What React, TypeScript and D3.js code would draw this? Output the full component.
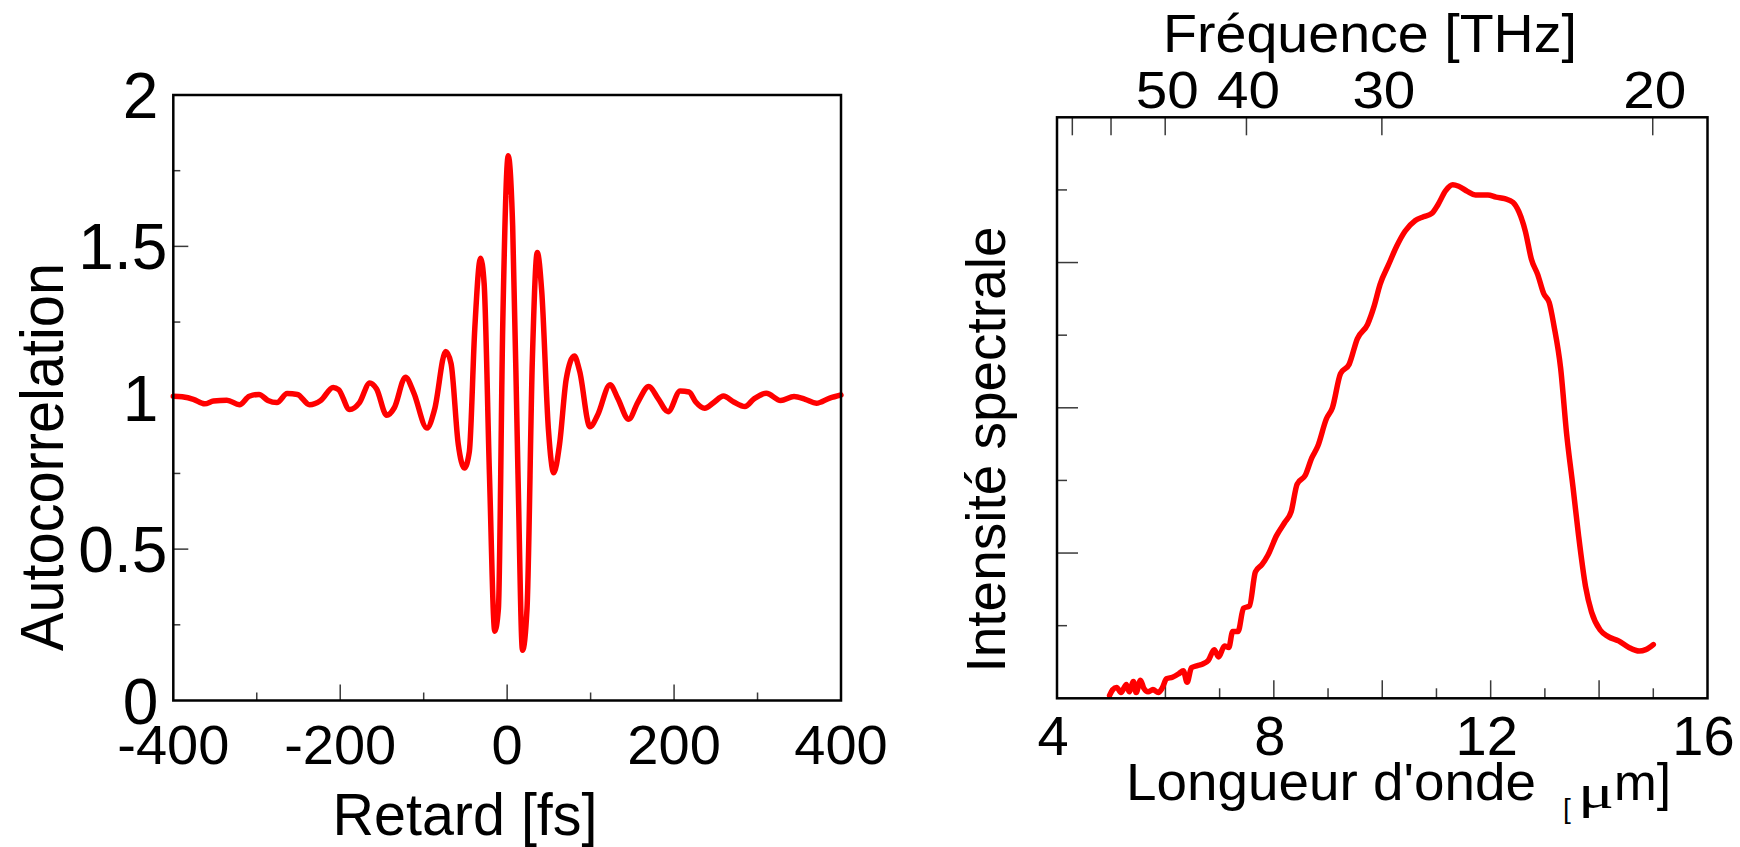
import React from 'react';
import * as d3 from 'd3';

// ---------- Data ----------
// Left panel: interferometric autocorrelation vs delay
const delayFs = [
  -400, -389.3, -375.9, -362.5, -351.8, -335.8, -320.8, -309, -297.3, -286.6,
  -275.9, -263.6, -251.3, -236.8, -223.4, -208.5, -202, -188.7, -176.9, -164.6,
  -156.6, -144.2, -135.2, -121.8, -112.1, -96.1, -87, -73.6, -67.2, -58.6,
  -51.2, -45.3, -38.8, -31.9, -27.6, -21.2, -14.8, -10.5, -5.2, 1.3,
  6.6, 13, 18.4, 23.8, 30.2, 36.1, 41.4, 49.4, 55.8, 62.8,
  70.8, 80.5, 86.9, 99.2, 108.3, 123.3, 132.4, 145.7, 156.4, 169.8,
  180.5, 192.8, 207.3, 217.9, 226, 236.7, 247.4, 259.2, 271.5, 284.9,
  295.6, 310.5, 327.7, 343.7, 357.1, 370.5, 386.5, 400,
];
const autocorrelation = [
  1.005, 1.003, 0.995, 0.98, 0.989, 0.992, 0.977, 1.005, 1.011, 0.991,
  0.984, 1.014, 1.011, 0.977, 0.991, 1.034, 1.027, 0.961, 0.984, 1.049,
  1.03, 0.942, 0.967, 1.068, 1.018, 0.9, 0.961, 1.153, 1.113, 0.847,
  0.768, 0.822, 1.227, 1.461, 1.378, 0.746, 0.229, 0.302, 1.252, 1.799,
  1.568, 0.746, 0.166, 0.303, 1.125, 1.48, 1.353, 0.897, 0.752, 0.847,
  1.062, 1.138, 1.087, 0.904, 0.942, 1.043, 0.999, 0.929, 0.984, 1.037,
  0.999, 0.954, 1.022, 1.019, 0.986, 0.965, 0.984, 1.006, 0.986, 0.971,
  0.996, 1.015, 0.991, 1.004, 0.995, 0.982, 0.999, 1.009,
];

// Right panel: spectral intensity vs wavelength
const wavelengthUm = [
  4.97, 5.03, 5.1, 5.18, 5.28, 5.33, 5.41, 5.46, 5.54, 5.6,
  5.68, 5.77, 5.87, 5.94, 6.02, 6.13, 6.25, 6.33, 6.4, 6.48,
  6.59, 6.68, 6.79, 6.9, 6.98, 7.09, 7.17, 7.24, 7.34, 7.44,
  7.55, 7.66, 7.78, 7.89, 8.05, 8.2, 8.32, 8.43, 8.58, 8.7,
  8.81, 8.97, 9.08, 9.23, 9.39, 9.54, 9.73, 9.85, 9.96, 10.11,
  10.27, 10.42, 10.61, 10.76, 10.92, 11.03, 11.17, 11.3, 11.41, 11.57,
  11.72, 11.95, 12.1, 12.26, 12.41, 12.52, 12.64, 12.75, 12.87, 12.98,
  13.08, 13.17, 13.29, 13.4, 13.52, 13.62, 13.75, 13.86, 14.02, 14.17,
  14.36, 14.55, 14.74, 14.86, 15.0,
];
const spectralIntensity = [
  0.04, 0.12, 0.15, 0.08, 0.19, 0.09, 0.23, 0.08, 0.25, 0.14,
  0.09, 0.12, 0.08, 0.14, 0.27, 0.29, 0.34, 0.38, 0.22, 0.42,
  0.45, 0.47, 0.52, 0.67, 0.57, 0.72, 0.7, 0.92, 0.92, 1.24,
  1.27, 1.74, 1.84, 1.97, 2.24, 2.42, 2.57, 2.95, 3.07, 3.31,
  3.47, 3.85, 4.0, 4.47, 4.6, 4.95, 5.15, 5.4, 5.7, 5.96,
  6.23, 6.43, 6.58, 6.63, 6.68, 6.8, 6.99, 7.07, 7.05, 6.98,
  6.93, 6.93, 6.9, 6.88, 6.83, 6.7, 6.43, 6.05, 5.83, 5.57,
  5.45, 5.12, 4.55, 3.65, 2.9, 2.25, 1.54, 1.19, 0.94, 0.85,
  0.79, 0.7, 0.65, 0.67, 0.74,
];

// Ticks and labels
const delayMinorTicks = [-300, -100, 100, 300];
const delayMajorTicks = [-200, 0, 200];
const delayLabels = [-400, -200, 0, 200, 400];
const autoMinorTicks = [0.25, 0.75, 1.25, 1.75];
const autoMajorTicks = [0.5, 1, 1.5];
const autoLabels = ['0', '0.5', '1', '1.5', '2'];
const wlMinorTicks = [5, 7, 9, 11, 13, 15];
const wlMajorTicks = [6, 8, 10, 12, 14];
const wlLabels = [4, 8, 12, 16];
const intensityMinorTicks = [1, 3, 5, 7];
const intensityMajorTicks = [2, 4, 6];
const freqTicksTHz = [70, 60, 50, 40, 30, 20];
const freqLabelsTHz = [50, 40, 30, 20];

const C_UM_THZ = 299.792458;
const FONT = '"Liberation Sans", Arial, Helvetica, sans-serif';
const RED = '#ff0000';
const TICK = '#3a3a3a';

export default function App() {
  // Left panel scales
  const xL = d3.scaleLinear().domain([-400, 400]).range([173.3, 841]);
  const yL = d3.scaleLinear().domain([0, 2]).range([700.5, 95]);
  // Right panel scales
  const xR = d3.scaleLinear().domain([4, 16]).range([1057, 1707.5]);
  const yR = d3.scaleLinear().domain([0, 8]).range([698.3, 117.3]);

  const lineL = d3
    .line<number>()
    .x((_, i) => xL(delayFs[i]))
    .y((d) => yL(d))
    .curve(d3.curveMonotoneX);
  const lineR = d3
    .line<number>()
    .x((_, i) => xR(wavelengthUm[i]))
    .y((d) => yR(d))
    .curve(d3.curveMonotoneX);

  const [lx0, lx1] = xL.range();
  const [ly0, ly1] = yL.range();
  const [rx0, rx1] = xR.range();
  const [ry0, ry1] = yR.range();

  return (
    <svg
      width={1740}
      height={847}
      viewBox="0 0 1740 847"
      style={{ position: 'absolute', left: 0, top: 0, background: '#fff' }}
      fontFamily={FONT}
    >
      <rect x={0} y={0} width={1740} height={847} fill="#fff" />

      {/* ================= LEFT PANEL ================= */}
      <g>
        {delayMinorTicks.map((t) => (
          <line key={'dmn' + t} x1={xL(t)} x2={xL(t)} y1={ly0} y2={ly0 - 8} stroke={TICK} strokeWidth={1.5} />
        ))}
        {delayMajorTicks.map((t) => (
          <line key={'dmj' + t} x1={xL(t)} x2={xL(t)} y1={ly0} y2={ly0 - 16} stroke={TICK} strokeWidth={1.5} />
        ))}
        {autoMinorTicks.map((t) => (
          <line key={'amn' + t} x1={lx0} x2={lx0 + 7} y1={yL(t)} y2={yL(t)} stroke={TICK} strokeWidth={1.5} />
        ))}
        {autoMajorTicks.map((t) => (
          <line key={'amj' + t} x1={lx0} x2={lx0 + 15} y1={yL(t)} y2={yL(t)} stroke={TICK} strokeWidth={1.5} />
        ))}

        <path d={lineL(autocorrelation) || ''} fill="none" stroke={RED} strokeWidth={5.5} strokeLinejoin="round" strokeLinecap="round" />

        <rect x={lx0} y={ly1} width={lx1 - lx0} height={ly0 - ly1} fill="none" stroke="#000" strokeWidth={2.5} />

        {autoLabels.map((s) => (
          <text
            key={'al' + s}
            x={lx0 - 15 + (s.includes('.') ? 9 : 0)}
            y={yL(+s) + 23}
            textAnchor="end"
            fontSize={64}
            fill="#000"
          >
            {s}
          </text>
        ))}
        {delayLabels.map((t) => (
          <text key={'dl' + t} x={xL(t)} y={764} textAnchor="middle" fontSize={56} fill="#000">
            {String(t)}
          </text>
        ))}

        <text
          transform="translate(63,457) rotate(-90)"
          textAnchor="middle"
          fontSize={61}
          textLength={388}
          lengthAdjust="spacingAndGlyphs"
          fill="#000"
        >
          Autocorrelation
        </text>
        <text x={465} y={835} textAnchor="middle" fontSize={60} textLength={265} lengthAdjust="spacingAndGlyphs" fill="#000">
          Retard [fs]
        </text>
      </g>

      {/* ================= RIGHT PANEL ================= */}
      <g>
        {wlMinorTicks.map((t) => (
          <line key={'wmn' + t} x1={xR(t)} x2={xR(t)} y1={ry0} y2={ry0 - 10} stroke={TICK} strokeWidth={1.5} />
        ))}
        {wlMajorTicks.map((t) => (
          <line key={'wmj' + t} x1={xR(t)} x2={xR(t)} y1={ry0} y2={ry0 - 18} stroke={TICK} strokeWidth={1.5} />
        ))}
        {intensityMinorTicks.map((t) => (
          <line key={'imn' + t} x1={rx0} x2={rx0 + 10} y1={yR(t)} y2={yR(t)} stroke={TICK} strokeWidth={1.5} />
        ))}
        {intensityMajorTicks.map((t) => (
          <line key={'imj' + t} x1={rx0} x2={rx0 + 21} y1={yR(t)} y2={yR(t)} stroke={TICK} strokeWidth={1.5} />
        ))}
        {freqTicksTHz.map((f) => (
          <line key={'ft' + f} x1={xR(C_UM_THZ / f)} x2={xR(C_UM_THZ / f)} y1={ry1} y2={ry1 + 18} stroke={TICK} strokeWidth={1.5} />
        ))}

        <path d={lineR(spectralIntensity) || ''} fill="none" stroke={RED} strokeWidth={5.5} strokeLinejoin="round" strokeLinecap="round" />

        <rect x={rx0} y={ry1} width={rx1 - rx0} height={ry0 - ry1} fill="none" stroke="#000" strokeWidth={2.5} />

        {wlLabels.map((t) => (
          <text key={'wl' + t} x={xR(t) - 4} y={755} textAnchor="middle" fontSize={56} fill="#000">
            {String(t)}
          </text>
        ))}
        {freqLabelsTHz.map((f) => (
          <text
            key={'fl' + f}
            x={xR(C_UM_THZ / f) + 2}
            y={108}
            textAnchor="middle"
            fontSize={51}
            textLength={63}
            lengthAdjust="spacingAndGlyphs"
            fill="#000"
          >
            {String(f)}
          </text>
        ))}

        <text x={1370} y={52.4} textAnchor="middle" fontSize={54} textLength={414} lengthAdjust="spacingAndGlyphs" fill="#000">
          Fréquence [THz]
        </text>

        <text x={1126} y={800} fontSize={51} textLength={410} lengthAdjust="spacingAndGlyphs" fill="#000">
          Longueur d'onde
        </text>
        <text x={1563} y={818} fontSize={28} fill="#000">
          [
        </text>
        <text
          x={1578}
          y={808}
          fontSize={48}
          textLength={36}
          lengthAdjust="spacingAndGlyphs"
          fontFamily='"Liberation Serif", "Times New Roman", serif'
          fill="#000"
        >
          μ
        </text>
        <text x={1614} y={800} fontSize={52} textLength={57} lengthAdjust="spacingAndGlyphs" fill="#000">
          m]
        </text>

        <text
          transform="translate(1005,449.5) rotate(-90)"
          textAnchor="middle"
          fontSize={55}
          textLength={446}
          lengthAdjust="spacingAndGlyphs"
          fill="#000"
        >
          Intensité spectrale
        </text>
      </g>
    </svg>
  );
}
